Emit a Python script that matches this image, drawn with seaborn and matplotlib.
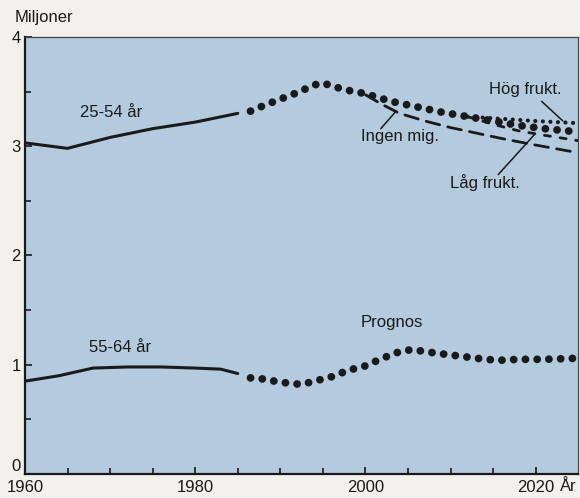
import matplotlib
matplotlib.use("Agg")
import matplotlib.pyplot as plt
import seaborn as sns

# historical (solid) and forecast (dotted) series, millions
years_2554_hist = [1960, 1965, 1970, 1975, 1980, 1985]
vals_2554_hist = [3.03, 2.98, 3.08, 3.16, 3.22, 3.30]

years_2554_prog = [1986.5, 1988, 1990, 1992, 1994, 1995, 1996, 1998, 2000, 2003, 2006, 2009, 2012, 2015, 2018, 2021, 2025]
vals_2554_prog = [3.32, 3.37, 3.43, 3.49, 3.56, 3.58, 3.55, 3.51, 3.48, 3.41, 3.36, 3.31, 3.27, 3.23, 3.19, 3.16, 3.13]

years_ingen = [2000, 2002, 2004, 2007, 2010, 2013, 2016, 2020, 2025]
vals_ingen = [3.47, 3.38, 3.30, 3.23, 3.17, 3.12, 3.07, 3.01, 2.94]

years_lag = [2012, 2015, 2018, 2021, 2025]
vals_lag = [3.27, 3.20, 3.14, 3.10, 3.05]

years_hog = [2012, 2016, 2020, 2025]
vals_hog = [3.27, 3.25, 3.23, 3.21]

years_5564_hist = [1960, 1964, 1968, 1972, 1976, 1980, 1983, 1985]
vals_5564_hist = [0.85, 0.90, 0.97, 0.98, 0.98, 0.97, 0.96, 0.92]

years_5564_prog = [1986.5, 1988, 1990, 1992.5, 1994, 1996, 1998, 2000, 2002, 2004, 2005.5, 2007, 2009, 2011, 2013, 2015.5, 2018, 2021, 2025]
vals_5564_prog = [0.88, 0.87, 0.84, 0.82, 0.85, 0.89, 0.95, 0.99, 1.06, 1.12, 1.14, 1.12, 1.10, 1.08, 1.06, 1.04, 1.05, 1.05, 1.06]

xticks = [1960, 1980, 2000, 2020]
yticks = [0, 1, 2, 3, 4]

sns.set_style("ticks")
plt.rcParams['font.family'] = ['Liberation Sans', 'DejaVu Sans']

fig = plt.figure(figsize=(5.8, 4.98), dpi=100, facecolor='#f3f1ec')
ax = fig.add_axes([0.043, 0.048, 0.954, 0.878])
ax.set_facecolor('#b4cbdf')

ink = '#1a1a1a'
fs = 12

# solid history
sns.lineplot(x=years_2554_hist, y=vals_2554_hist, ax=ax, color=ink, lw=2.2)
sns.lineplot(x=years_5564_hist, y=vals_5564_hist, ax=ax, color=ink, lw=2.2)

# scenarios drawn under the main forecast
sns.lineplot(x=years_ingen, y=vals_ingen, ax=ax, color=ink, lw=2.0,
             linestyle=(0, (5.0, 3.0)), dash_capstyle='round')
sns.lineplot(x=years_lag, y=vals_lag, ax=ax, color=ink, lw=2.0,
             linestyle=(0, (2.2, 3.5)), dash_capstyle='round')
sns.lineplot(x=years_hog, y=vals_hog, ax=ax, color=ink, lw=3.0,
             linestyle=(0, (0.01, 1.8)), dash_capstyle='round')

# big-dot forecast
sns.lineplot(x=years_2554_prog, y=vals_2554_prog, ax=ax, color=ink, lw=5.6,
             linestyle=(0, (0.01, 1.5)), dash_capstyle='round')
sns.lineplot(x=years_5564_prog, y=vals_5564_prog, ax=ax, color=ink, lw=5.6,
             linestyle=(0, (0.01, 1.5)), dash_capstyle='round')

ax.set_xlim(1960, 2025)
ax.set_ylim(0, 4)
ax.set_xticks(xticks)
ax.set_xticks(range(1965, 2025, 5), minor=True)
ax.set_yticks(yticks)
ax.set_yticks([0.5, 1.5, 2.5, 3.5], minor=True)
ax.tick_params(axis='both', which='both', direction='in', color=ink, width=1.2, labelsize=fs, labelcolor=ink)
ax.tick_params(axis='both', which='major', length=5)
ax.tick_params(axis='both', which='minor', length=4)
ax.tick_params(axis='x', pad=4)
ax.tick_params(axis='y', pad=3)
ax.get_yticklabels()[0].set_va('bottom')
ax.set_xlabel('')
ax.set_ylabel('')

for side in ['left', 'bottom']:
    ax.spines[side].set_linewidth(1.6)
    ax.spines[side].set_color(ink)
for side in ['top', 'right']:
    ax.spines[side].set_linewidth(0.9)
    ax.spines[side].set_color('#444444')

fig.text(0.026, 0.964, 'Miljoner', fontsize=fs, color=ink, ha='left', va='center')
ax.text(2022.85, -0.045, 'År', fontsize=fs, color=ink, ha='left', va='top')

ax.text(1970.1, 3.31, '25-54 år', fontsize=fs, color=ink, ha='center', va='center')
ax.text(1971.2, 1.16, '55-64 år', fontsize=fs, color=ink, ha='center', va='center')
ax.text(2003.1, 1.39, 'Prognos', fontsize=fs, color=ink, ha='center', va='center')

arrow = dict(arrowstyle='-', color=ink, lw=1.1, shrinkA=0, shrinkB=0)
ax.text(2004.0, 3.09, 'Ingen mig.', fontsize=fs, color=ink, ha='center', va='center')
ax.annotate('', xy=(2003.6, 3.32), xytext=(2001.8, 3.16), arrowprops=arrow)
ax.text(2014.0, 2.67, 'Låg frukt.', fontsize=fs, color=ink, ha='center', va='center')
ax.annotate('', xy=(2019.9, 3.11), xytext=(2015.6, 2.74), arrowprops=arrow)
ax.text(2018.8, 3.52, 'Hög frukt.', fontsize=fs, color=ink, ha='center', va='center')
ax.annotate('', xy=(2023.2, 3.23), xytext=(2020.7, 3.41), arrowprops=arrow)

fig.savefig('out.png', dpi=100, facecolor=fig.get_facecolor())
